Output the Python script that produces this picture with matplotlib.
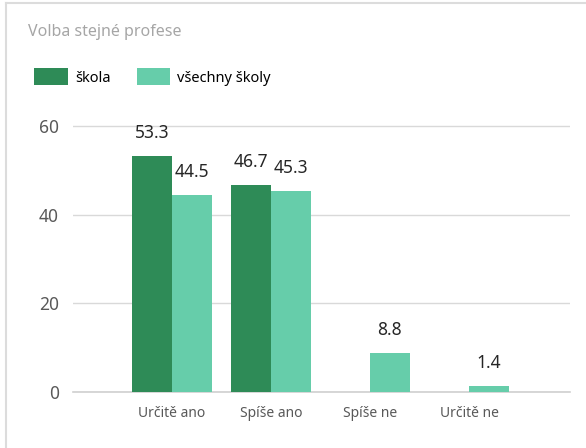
import matplotlib
matplotlib.use("Agg")
import matplotlib.pyplot as plt
from matplotlib.patches import Patch
from matplotlib.lines import Line2D
import numpy as np

categories = ["Určitě ano", "Spíše ano", "Spíše ne", "Určitě ne"]
skola = [53.3, 46.7, None, None]
vsechny = [44.5, 45.3, 8.8, 1.4]
series_names = ["škola", "všechny školy"]
colors = ["#2e8b57", "#66cdaa"]
yticks = [0, 20, 40, 60]
title = "Volba stejné profese"

plt.rcParams['font.family'] = ['Noto Sans', 'DejaVu Sans']

W, H = 586, 448
fig = plt.figure(figsize=(W / 100, H / 100), dpi=100)
left, right, bottom, top = 73, 570, 392, 120
ax = fig.add_axes([left / W, 1 - bottom / H, (right - left) / W, (bottom - top) / H])

x = np.arange(len(categories))
w = 0.4
for i, (vals, c) in enumerate(zip([skola, vsechny], colors)):
    off = -w / 2 if i == 0 else w / 2
    for xi, v in zip(x, vals):
        if v is None:
            continue
        ax.bar(xi + off, v, width=w, color=c, zorder=3)
        ax.annotate(f"{v:.1f}", (xi + off, v), xytext=(0, 10), textcoords="offset points",
                    ha="center", va="bottom", fontsize=12.5, color="#262626")

ax.set_xlim(-1.0, 4.02)
ax.set_ylim(0, 61.4)
ax.set_yticks(yticks)
ax.set_xticks(x)
ax.set_xticklabels(categories, fontsize=10, color="#595959")
ax.tick_params(axis="y", length=0, pad=10, labelsize=12.5, labelcolor="#595959")
ax.tick_params(axis="x", length=0, pad=10)
for s in ax.spines.values():
    s.set_visible(False)
ax.grid(axis="y", color="#d9d9d9", linewidth=1, zorder=0)
ax.axhline(0, color="#d0d0d0", linewidth=1.2, zorder=2, clip_on=False)
ax.set_axisbelow(True)

fig.text(28 / W, 1 - 32 / H, title, fontsize=11.5, color="#a6a6a6", va="center", ha="left")

handles = [Patch(facecolor=c, edgecolor="none") for c in colors]
fig.legend(handles, series_names, loc="center left", bbox_to_anchor=(34 / W, 1 - 77 / H),
           ncol=2, frameon=False, fontsize=10.5, handlelength=2.3, handleheight=1.4,
           handletextpad=0.5, columnspacing=1.8, borderpad=0, borderaxespad=0)

fig.add_artist(Line2D([5.5 / W, 1], [1 - 3.5 / H, 1 - 3.5 / H], color="#dcdcdc", linewidth=1.5,
                      transform=fig.transFigure))
fig.add_artist(Line2D([5.5 / W, 5.5 / W], [0, 1 - 3.5 / H], color="#dcdcdc", linewidth=1.5,
                      transform=fig.transFigure))

fig.savefig("out.png", dpi=100)
